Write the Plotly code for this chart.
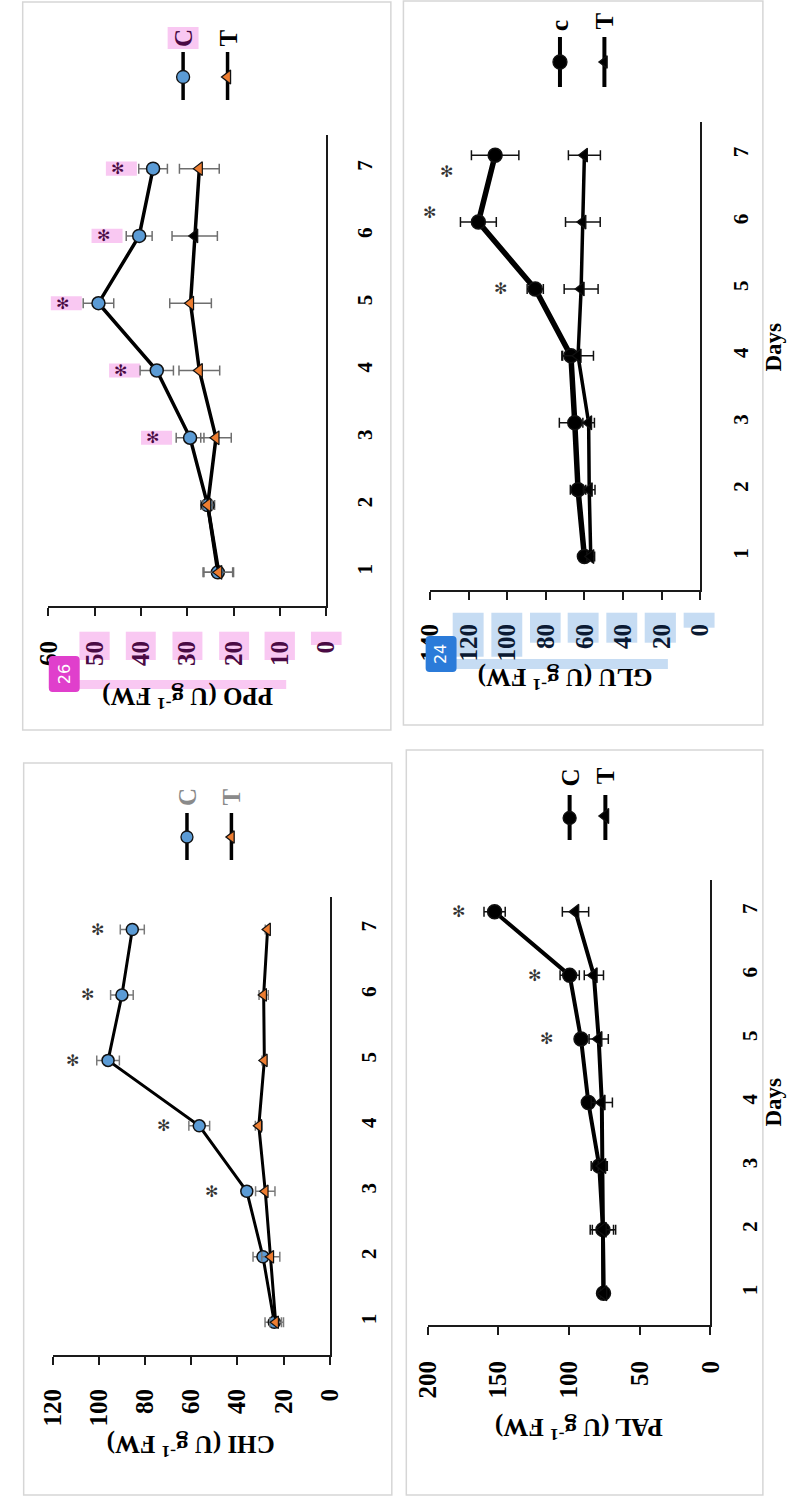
import plotly.graph_objects as go

W, H = 801, 1503

# ---------------- data ----------------
days = [1, 2, 3, 4, 5, 6, 7]
day_text = ["1", "2", "3", "4", "5", "6", "7"]

ppo_c = [23.4, 25.6, 29.4, 36.6, 49.2, 40.4, 37.4]
ppo_c_err = [3.2, 1.5, 3.0, 3.6, 3.3, 2.8, 3.1]
ppo_t = [23.2, 25.6, 23.8, 27.4, 29.3, 28.4, 27.4]
ppo_t_err = [3.2, 1.0, 3.3, 4.4, 4.5, 4.9, 4.3]
ppo_star_days = [3, 4, 5, 6, 7]
ppo_star_vals = [37.5, 44.4, 57.0, 48.2, 45.1]
ppo_ticks = [0, 10, 20, 30, 40, 50, 60]

glu_c = [60, 63.3, 65, 67, 85.5, 115, 106.3]
glu_c_err = [2, 4, 8, 4.7, 4.2, 9.3, 12.3]
glu_t = [56.7, 57.5, 57.8, 63.3, 61.7, 60.8, 60]
glu_t_err = [2, 3, 3, 8, 8.8, 9, 8.3]
glu_star_days = [5, 6.14, 6.76]
glu_star_vals = [103.5, 140.5, 131.5]
glu_ticks = [0, 20, 40, 60, 80, 100, 120, 140]

chi_c = [24, 28.9, 35.9, 56.5, 96, 90, 85.5]
chi_c_err = [4, 4.3, 2, 4.5, 4.9, 4.9, 5.2]
chi_t = [23.4, 25.5, 27.9, 30.7, 28.3, 28.6, 26.9]
chi_t_err = [2.5, 3.9, 4.2, 1.5, 1, 2, 1]
chi_star_days = [3, 4, 5, 6, 7]
chi_star_vals = [51.3, 71.8, 111.2, 104.9, 100.5]
chi_ticks = [0, 20, 40, 60, 80, 100, 120]

pal_c = [75.6, 76, 78.6, 86.3, 91.5, 99.5, 152.6]
pal_c_err = [2, 7.5, 5.7, 3, 1.5, 6.8, 7.5]
pal_t = [75.6, 76, 76.3, 76.8, 79, 82.4, 95.4]
pal_t_err = [2, 9, 3, 7.5, 6.8, 6.8, 9.3]
pal_star_days = [5, 6, 7]
pal_star_vals = [115.9, 124.6, 178]
pal_ticks = [0, 50, 100, 150, 200]

# ---------------- style / geometry ----------------
SERIF = "Liberation Serif"
BLUE = "#5B9BD5"
ORANGE = "#ED7D31"
PINK = "#f9c8f2"
LBLUE = "#c6dcf3"
PURPLE = "#4a0a44"
NAVY = "#0b1a33"


def px(x):
    return x / W


def py(y):
    return 1 - y / H


def rounded_rect(a, b, c, d, r=4):
    x0, x1 = px(a), px(c)
    y0, y1 = py(b), py(d)  # y0 top, y1 bottom (paper)
    rx, ry = r / W, r / H
    return (f"M {x0 + rx},{y0} L {x1 - rx},{y0} Q {x1},{y0} {x1},{y0 - ry} "
            f"L {x1},{y1 + ry} Q {x1},{y1} {x1 - rx},{y1} L {x0 + rx},{y1} "
            f"Q {x0},{y1} {x0},{y1 + ry} L {x0},{y0 - ry} Q {x0},{y0} {x0 + rx},{y0} Z")


panels = [
    dict(key="ppo", c=ppo_c, ce=ppo_c_err, t=ppo_t, te=ppo_t_err,
         sd=ppo_star_days, sv=ppo_star_vals, ticks=ppo_ticks, xmax=60,
         x0=35.7, x1=323, ytop=135, ybot=606,
         ccol=BLUE, tcol=[ORANGE] * 5 + ["#000000", ORANGE], errc="#6e6e6e",
         clw=3.5, tlw=3.5, csz=13, tsz=12,
         hl_ticks=PURPLE, hl_skip=[60], star_col=PURPLE,
         title="PPO (U g<sup>-1</sup> FW)", title_xy=(179, 698), stand=15, daystand=19),
    dict(key="glu", c=glu_c, ce=glu_c_err, t=glu_t, te=glu_t_err,
         sd=glu_star_days, sv=glu_star_vals, ticks=glu_ticks, xmax=140,
         x0=430.7, x1=710, ytop=121.7, ybot=590,
         ccol="#000000", tcol=["#000000"] * 7, errc="#111111",
         clw=5.5, tlw=3.5, csz=14, tsz=12,
         hl_ticks=NAVY, hl_skip=[140], star_col="#333333",
         title="GLU (U g<sup>-1</sup> FW)", title_xy=(570, 678), stand=14, daystand=21),
    dict(key="chi", c=chi_c, ce=chi_c_err, t=chi_t, te=chi_t_err,
         sd=chi_star_days, sv=chi_star_vals, ticks=chi_ticks, xmax=120,
         x0=40, x1=326.7, ytop=896.7, ybot=1355,
         ccol=BLUE, tcol=[ORANGE] * 7, errc="#7a7a7a",
         clw=3, tlw=3, csz=12, tsz=11,
         hl_ticks=None, hl_skip=[], star_col="#333333",
         title="CHI (U g<sup>-1</sup> FW)", title_xy=(183, 1446), stand=14, daystand=19),
    dict(key="pal", c=pal_c, ce=pal_c_err, t=pal_t, te=pal_t_err,
         sd=pal_star_days, sv=pal_star_vals, ticks=pal_ticks, xmax=200,
         x0=428, x1=720.7, ytop=880, ybot=1325,
         ccol="#000000", tcol=["#000000"] * 7, errc="#111111",
         clw=4, tlw=4, csz=14, tsz=13,
         hl_ticks=None, hl_skip=[], star_col="#333333",
         title="PAL (U g<sup>-1</sup> FW)", title_xy=(584, 1429), stand=16, daystand=19),
]

fig = go.Figure()
annotations = []
shapes = []
layout = {}

# panel frames
frames = [(9, 2, 390, 730), (403, 1, 775, 725), (10, 763, 391, 1495), (406, 750, 775, 1495)]
for (a, b, c, d) in frames:
    shapes.append(dict(type="rect", xref="paper", yref="paper", x0=px(a), x1=px(c),
                       y0=py(d), y1=py(b), line=dict(color="#d6d6d6", width=1.5),
                       fillcolor="rgba(0,0,0,0)", layer="below"))

for i, p in enumerate(panels, start=1):
    xa = "x" if i == 1 else f"x{i}"
    ya = "y" if i == 1 else f"y{i}"
    xk = "xaxis" if i == 1 else f"xaxis{i}"
    yk = "yaxis" if i == 1 else f"yaxis{i}"

    fig.add_trace(go.Scatter(
        x=p["c"], y=days, xaxis=xa, yaxis=ya, mode="lines+markers", cliponaxis=False,
        showlegend=False, hoverinfo="skip",
        line=dict(color="#000000", width=p["clw"]),
        marker=dict(symbol="circle", size=p["csz"], color=p["ccol"],
                    line=dict(color="#111111", width=1.5)),
        error_x=dict(type="data", array=p["ce"], color=p["errc"], thickness=1.5, width=5)))
    fig.add_trace(go.Scatter(
        x=p["t"], y=days, xaxis=xa, yaxis=ya, mode="lines+markers", cliponaxis=False,
        showlegend=False, hoverinfo="skip",
        line=dict(color="#000000", width=p["tlw"]),
        marker=dict(symbol="triangle-left", size=p["tsz"], color=p["tcol"],
                    line=dict(color="#111111", width=1.2)),
        error_x=dict(type="data", array=p["te"], color=p["errc"], thickness=1.5, width=5)))

    ticktext = []
    for v in p["ticks"]:
        if p["hl_ticks"] and v not in p["hl_skip"]:
            ticktext.append(f"<span style='color:{p['hl_ticks']}'>{v}</span>")
        else:
            ticktext.append(str(v))

    layout[xk] = dict(domain=[px(p["x0"]), px(p["x1"])], range=[p["xmax"], 0],
                      anchor=ya, side="bottom", showline=True, linecolor="#1a1a1a",
                      linewidth=2, ticks="outside", ticklen=8, tickwidth=2,
                      tickcolor="#1a1a1a", tickangle=-90, tickvals=p["ticks"],
                      ticktext=ticktext, ticklabelstandoff=p["stand"],
                      tickfont=dict(family=SERIF, size=25, color="#000000", weight="bold"),
                      showgrid=False, zeroline=False, fixedrange=True)
    layout[yk] = dict(domain=[py(p["ybot"]), py(p["ytop"])], range=[0.5, 7.5],
                      anchor=xa, side="right", showline=True, linecolor="#1a1a1a",
                      linewidth=2, ticks="", tickangle=-90, tickvals=days,
                      ticktext=day_text, ticklabelstandoff=p["daystand"],
                      tickfont=dict(family=SERIF, size=21, color="#000000", weight="bold"),
                      showgrid=False, zeroline=False, fixedrange=True)

    scale = (p["x1"] - p["x0"]) / p["xmax"]  # px per unit
    for d, v in zip(p["sd"], p["sv"]):
        if p["key"] == "ppo":
            shapes.append(dict(type="rect", xref=xa, yref=ya, x0=v + 2.5, x1=v - 4.2,
                               y0=d - 0.105, y1=d + 0.105, line=dict(width=0),
                               fillcolor=PINK, layer="below"))
        vx = min(v, p["xmax"])
        shift = -(v - vx) * scale
        annotations.append(dict(x=vx, y=d, xref=xa, yref=ya, text="✻", showarrow=False,
                                xshift=shift,
                                font=dict(family="DejaVu Sans", size=16, color=p["star_col"]),
                                xanchor="center", yanchor="middle"))

    tx, ty = p["title_xy"]
    annotations.append(dict(x=px(tx), y=py(ty), xref="paper", yref="paper", text=p["title"],
                            textangle=180, showarrow=False, xanchor="center", yanchor="middle",
                            font=dict(family=SERIF, size=25, color="#000000", weight="bold")))

# "Days" titles
for (dx, dy) in [(785, 347), (785, 1102)]:
    annotations.append(dict(x=px(dx), y=py(dy), xref="paper", yref="paper", text="Days",
                            textangle=-90, showarrow=False, xanchor="center", yanchor="middle",
                            font=dict(family=SERIF, size=23, color="#000000", weight="bold")))

# highlight overlays (PPO: pink, GLU: blue)
ppo_hl = [(67.7, 631.7, 99, 660), (115.7, 631.7, 146.7, 660), (164, 631.7, 195, 660),
          (212.3, 631.7, 243.3, 660), (259.3, 631.7, 290.7, 660), (307.3, 631.7, 339, 645),
          (66.7, 680, 281.7, 689), (159, 27, 191, 49)]
glu_hl = [(454, 612.7, 486, 656.7), (494, 612.7, 526, 656.7), (534, 612.7, 565.7, 642.7),
          (573, 612.7, 605, 642.7), (613, 612.7, 645, 642.7), (652.7, 612.7, 685, 642.7),
          (693, 612.7, 725, 627.7), (456.7, 659, 676.7, 669)]
for (a, b, c, d) in ppo_hl:
    shapes.append(dict(type="rect", xref="paper", yref="paper", x0=px(a), x1=px(c),
                       y0=py(d), y1=py(b), line=dict(width=0), fillcolor=PINK, layer="below"))
for (a, b, c, d) in glu_hl:
    shapes.append(dict(type="rect", xref="paper", yref="paper", x0=px(a), x1=px(c),
                       y0=py(d), y1=py(b), line=dict(width=0), fillcolor=LBLUE, layer="below"))
# badges
for (a, b, c, d, col, txt) in [(36, 656, 68, 692, "#e03fcc", "26"), (426, 636, 458, 672, "#2b7bd9", "24")]:
    shapes.append(dict(type="path", xref="paper", yref="paper", path=rounded_rect(a, b, c, d),
                       line=dict(width=0), fillcolor=col, layer="above"))
    annotations.append(dict(x=px((a + c) / 2), y=py((b + d) / 2), xref="paper", yref="paper",
                            text=txt, textangle=-90, showarrow=False, xanchor="center",
                            yanchor="middle", font=dict(family="DejaVu Sans", size=16, color="#ffffff")))

# ---------------- legends (overlay pixel axis) ----------------
legend_entries = [
    # x, ytop, ybot, ymark, symbol, color, size, text, textcolor, texty
    (175, 52, 100, 77, "circle", BLUE, 13, "C", PURPLE, 38),
    (221, 52, 100, 77, "triangle-left", ORANGE, 12, "T", "#000000", 38),
    (179, 813, 860, 837, "circle", BLUE, 12, "C", "#8a8a8a", 797),
    (225, 813, 860, 837, "triangle-left", ORANGE, 11, "T", "#8a8a8a", 797),
    (565, 37, 87, 62, "circle", "#000000", 14, "c", "#000000", 25),
    (611, 37, 87, 62, "triangle-left", "#000000", 11, "T", "#000000", 21),
    (575, 795, 840, 818, "circle", "#000000", 13, "C", "#000000", 778),
    (612, 795, 840, 816, "triangle-left", "#000000", 13, "T", "#000000", 776),
]
for (lx, yt, yb, ym, sym, col, sz, txt, tcol, tyy) in legend_entries:
    fig.add_trace(go.Scatter(x=[lx, lx], y=[yt, yb], xaxis="x5", yaxis="y5", mode="lines",
                             line=dict(color="#000000", width=4 if col == "#000000" else 3.5),
                             showlegend=False, hoverinfo="skip"))
    fig.add_trace(go.Scatter(x=[lx], y=[ym], xaxis="x5", yaxis="y5", mode="markers",
                             marker=dict(symbol=sym, size=sz, color=col,
                                         line=dict(color="#111111", width=1.3)),
                             showlegend=False, hoverinfo="skip"))
    annotations.append(dict(x=px(lx), y=py(tyy), xref="paper", yref="paper", text=txt,
                            textangle=-90, showarrow=False, xanchor="center", yanchor="middle",
                            font=dict(family=SERIF, size=25, color=tcol, weight="bold")))

layout["xaxis5"] = dict(domain=[0, 1], range=[0, W], anchor="y5", visible=False, fixedrange=True)
layout["yaxis5"] = dict(domain=[0, 1], range=[H, 0], anchor="x5", visible=False, fixedrange=True)

fig.update_layout(**layout)
fig.update_layout(width=W, height=H, margin=dict(l=0, r=0, t=0, b=0),
                  paper_bgcolor="#ffffff", plot_bgcolor="rgba(0,0,0,0)",
                  showlegend=False, annotations=annotations, shapes=shapes)

fig.write_html("out.html", config={"displayModeBar": False})
